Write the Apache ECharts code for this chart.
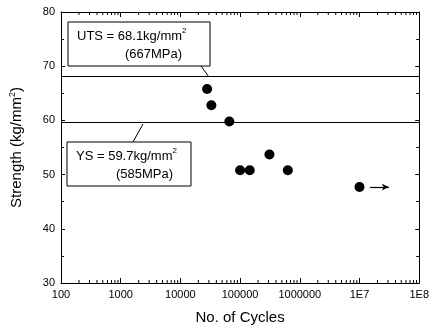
<!DOCTYPE html>
<html>
<head>
<meta charset="utf-8">
<script src="https://cdn.jsdelivr.net/npm/echarts@6/dist/echarts.min.js"></script>
<style>
  html, body { margin: 0; padding: 0; background: #fff; }
  #chart { width: 432px; height: 330px; }
</style>
</head>
<body>
<div id="chart"></div>
<script>
// fatigue test points (cycles, strength kg/mm2)
var cycles = [28000, 33000, 66000, 100000, 145000, 310000, 630000, 10000000];
var strength = [65.8, 62.8, 59.8, 50.8, 50.8, 53.7, 50.8, 47.7];

var utsValue = 68.1;
var ysValue = 59.7;

// runout arrow (start / end in cycles)
var runout = [15000000, 31000000];

var xTickLabels = { 100: "100", 1000: "1000", 10000: "10000", 100000: "100000", 1000000: "1000000", 10000000: "1E7", 100000000: "1E8" };
var yTicks = [30, 40, 50, 60, 70, 80];

// log minor ticks 2..9 per decade
var minorX = [];
[100, 1000, 10000, 100000, 1000000, 10000000].forEach(function (d) {
  for (var k = 2; k <= 9; k++) minorX.push(d * k);
});

var FONT = "Liberation Sans, Arial, sans-serif";
var black = "#000";

var chart = echarts.init(document.getElementById("chart"));

function tickSeries(yVal, dir) {
  // short minor tick marks drawn via the axis scale
  return {
    type: "custom",
    xAxisIndex: 0,
    yAxisIndex: 0,
    silent: true,
    data: minorX,
    renderItem: function (params, api) {
      var p = api.coord([api.value(0), yVal]);
      return {
        type: "line",
        shape: { x1: p[0], y1: p[1], x2: p[0], y2: p[1] + dir * 3 },
        style: { stroke: black, lineWidth: 1 }
      };
    },
    encode: { x: 0 },
    z: 5
  };
}

var option = {
  animation: false,
  backgroundColor: "#fff",
  grid: { left: 58, right: 12, top: 12, bottom: 44 },
  xAxis: [
    {
      type: "log",
      logBase: 10,
      min: 100,
      max: 100000000,
      name: "No. of Cycles",
      nameLocation: "middle",
      nameGap: 27,
      nameTextStyle: { fontFamily: FONT, fontSize: 15, color: black },
      axisLine: { lineStyle: { color: black, width: 1 } },
      axisTick: { inside: true, length: 5, lineStyle: { color: black } },
      axisLabel: {
        fontFamily: FONT, fontSize: 11, color: black, margin: 6,
        formatter: function (v) { return xTickLabels[Math.round(v)] || ""; }
      },
      splitLine: { show: false }
    },
    {
      type: "log",
      logBase: 10,
      min: 100,
      max: 100000000,
      position: "top",
      axisLine: { onZero: false, lineStyle: { color: black, width: 1 } },
      axisTick: { inside: true, length: 5, lineStyle: { color: black } },
      axisLabel: { show: false },
      splitLine: { show: false }
    }
  ],
  yAxis: [
    {
      type: "value",
      min: 30,
      max: 80,
      interval: 10,
      name: "{a|Strength (kg/mm}{s|2}{a|)}",
      nameLocation: "middle",
      nameGap: 36,
      nameTextStyle: {
        rich: {
          a: { fontFamily: FONT, fontSize: 15, color: black },
          s: { fontFamily: FONT, fontSize: 9, color: black, verticalAlign: "top", padding: [0, 0, 8, 0] }
        }
      },
      axisLine: { show: true, lineStyle: { color: black, width: 1 } },
      axisTick: { show: true, inside: true, length: 4, lineStyle: { color: black } },
      minorTick: { show: true, splitNumber: 2, length: 3, lineStyle: { color: black } },
      axisLabel: {
        fontFamily: FONT, fontSize: 11, color: black, margin: 6,
        formatter: function (v) { return yTicks.indexOf(v) >= 0 ? String(v) : ""; }
      },
      splitLine: { show: false }
    },
    {
      type: "value",
      min: 30,
      max: 80,
      interval: 10,
      position: "right",
      axisLine: { show: true, onZero: false, lineStyle: { color: black, width: 1 } },
      axisTick: { show: true, inside: true, length: 4, lineStyle: { color: black } },
      minorTick: { show: true, splitNumber: 2, length: 3, lineStyle: { color: black } },
      axisLabel: { show: false },
      splitLine: { show: false }
    }
  ],
  series: [
    {
      type: "scatter",
      xAxisIndex: 0,
      yAxisIndex: 0,
      symbol: "circle",
      symbolSize: 10,
      itemStyle: { color: black, opacity: 1 },
      data: cycles.map(function (c, i) { return [c, strength[i]]; }),
      markLine: {
        silent: true,
        symbol: "none",
        label: { show: false },
        lineStyle: { color: black, width: 1.2, type: "solid", opacity: 1 },
        data: [
          { yAxis: utsValue },
          { yAxis: ysValue },
          [
            { coord: [runout[0], strength[7]], symbol: "none" },
            { coord: [runout[1], strength[7]], symbol: "arrow", symbolSize: [5, 7] }
          ]
        ]
      },
      z: 10
    },
    tickSeries(30, -1),
    tickSeries(80, 1)
  ],
  graphic: [
    {
      type: "rect",
      shape: { x: 68, y: 22, width: 142, height: 44 },
      style: { fill: "#fff", stroke: black, lineWidth: 1 }
    },
    {
      type: "text",
      x: 77, y: 27,
      style: {
        text: "{a|UTS = 68.1kg/mm}{s|2}\n{b|(667MPa)}",
        rich: {
          a: { fontFamily: FONT, fontSize: 13, fill: black, lineHeight: 18 },
          s: { fontFamily: FONT, fontSize: 8, fill: black, verticalAlign: "top", lineHeight: 18 },
          b: { fontFamily: FONT, fontSize: 13, fill: black, lineHeight: 18, padding: [0, 0, 0, 48] }
        }
      }
    },
    {
      type: "line",
      shape: { x1: 201, y1: 66, x2: 209, y2: 77 },
      style: { stroke: black, lineWidth: 1 }
    },
    {
      type: "rect",
      shape: { x: 67, y: 142, width: 124, height: 44 },
      style: { fill: "#fff", stroke: black, lineWidth: 1 }
    },
    {
      type: "text",
      x: 76, y: 147,
      style: {
        text: "{a|YS = 59.7kg/mm}{s|2}\n{b|(585MPa)}",
        rich: {
          a: { fontFamily: FONT, fontSize: 13, fill: black, lineHeight: 18 },
          s: { fontFamily: FONT, fontSize: 8, fill: black, verticalAlign: "top", lineHeight: 18 },
          b: { fontFamily: FONT, fontSize: 13, fill: black, lineHeight: 18, padding: [0, 0, 0, 40] }
        }
      }
    },
    {
      type: "line",
      shape: { x1: 133, y1: 142, x2: 143, y2: 124 },
      style: { stroke: black, lineWidth: 1 }
    }
  ]
};

chart.setOption(option);
</script>
</body>
</html>
